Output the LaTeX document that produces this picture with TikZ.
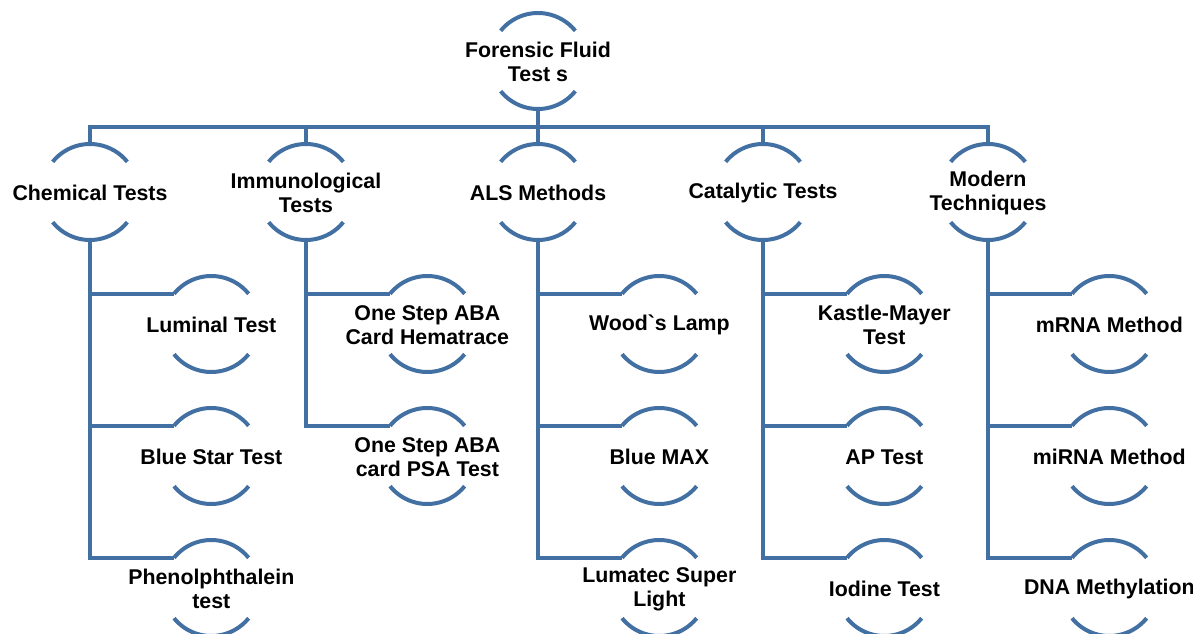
\documentclass[tikz,border=0pt]{standalone}
\usepackage{fontspec}
\setsansfont{Liberation Sans}
\usepackage{tikz}
\usetikzlibrary{positioning}
\definecolor{rimblue}{RGB}{67,112,162}

\begin{document}
\begin{tikzpicture}[x=0.75pt, y=0.75pt,
    fluid/.style={circle, minimum size=72pt, inner sep=0pt, outer sep=0pt},
    txt/.style={font=\sffamily\bfseries\fontsize{16}{18}\selectfont, align=center, text=black, yshift=-1pt},
    rim/.style={draw=rimblue, line width=3pt},
    link/.style={draw=rimblue, line width=3pt},
    node distance=99pt and 91pt, on grid]

        \useasboundingbox (0,0) rectangle (1193,-634);

        \node[fluid, label={[txt]center:{Forensic Fluid\\Test s}}] (root) at (538,-61) {};
        \coordinate (bus) at (538,-127);

        \node[fluid, label={[txt]center:{Chemical Tests}}] (chem) at (90,-192) {};
        \node[fluid, label={[txt]center:{Immunological\\Tests}}] (immu) at (306,-192) {};
        \node[fluid, label={[txt]center:{ALS Methods}}] (als) at (538,-192) {};
        \node[fluid, label={[txt]center:{Catalytic Tests}}] (cata) at (763,-192) {};
        \node[fluid, label={[txt]center:{Modern\\Techniques}}] (modern) at (988,-192) {};

        \node[fluid, label={[txt]center:{Luminal Test}}] (lum) [below right=of chem] {};
        \node[fluid, label={[txt]center:{Blue Star Test}}] (bstar) [below=of lum] {};
        \node[fluid, label={[txt]center:{Phenolphthalein\\test}}] (phen) [below=of bstar] {};

        \node[fluid, label={[txt]center:{One Step ABA\\Card Hematrace}}] (aba1) [below right=of immu] {};
        \node[fluid, label={[txt]center:{One Step ABA\\card PSA Test}}] (aba2) [below=of aba1] {};

        \node[fluid, label={[txt]center:{Wood\textasciigrave s Lamp}}] (wood) [below right=of als] {};
        \node[fluid, label={[txt]center:{Blue MAX}}] (bmax) [below=of wood] {};
        \node[fluid, label={[txt]center:{Lumatec Super\\Light}}] (lumatec) [below=of bmax] {};

        \node[fluid, label={[txt]center:{Kastle-Mayer\\Test}}] (kastle) [below right=of cata] {};
        \node[fluid, label={[txt]center:{AP Test}}] (ap) [below=of kastle] {};
        \node[fluid, label={[txt]center:{Iodine Test}}] (iodine) [below=of ap] {};

        \node[fluid, label={[txt]center:{mRNA Method}}] (mrna) [below right=of modern] {};
        \node[fluid, label={[txt]center:{miRNA Method}}] (mirna) [below=of mrna] {};
        \node[fluid, label={[txt]center:{DNA Methylation}}] (dna) [below=of mirna] {};

        \foreach \n in {root,chem,immu,als,cata,modern,lum,bstar,phen,aba1,aba2,wood,bmax,lumatec,kastle,ap,iodine,mrna,mirna,dna} {
            \draw[rim] (\n.141) arc[start angle=141, end angle=39, radius=36pt];
            \draw[rim] (\n.219) arc[start angle=219, end angle=321, radius=36pt];
        }

        \draw[link] (root.south) -- (bus);
        \draw[link] (chem.north) -- (chem.north |- bus) -- (modern.north |- bus) -- (modern.north);
        \foreach \n in {immu,als,cata}
            \draw[link] (\n.north) -- (\n.north |- bus);

        \foreach \p/\c in {chem/lum, chem/bstar, chem/phen, immu/aba1, immu/aba2,
                als/wood, als/bmax, als/lumatec, cata/kastle, cata/ap, cata/iodine,
                modern/mrna, modern/mirna, modern/dna}
            \draw[link] (\p.south) |- (\c.141);

\end{tikzpicture}
\end{document}
